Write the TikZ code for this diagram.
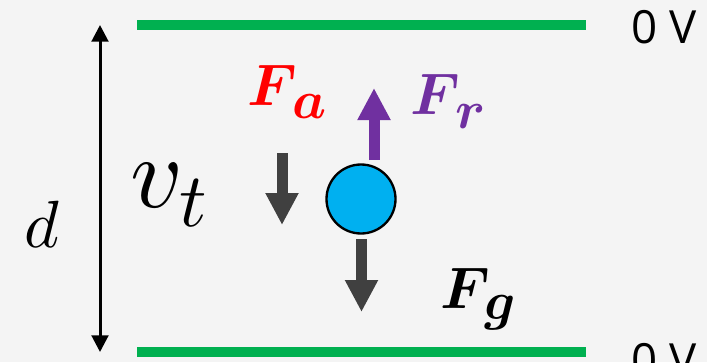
\documentclass[tikz,border=0pt]{standalone}
\usepackage{amsmath}
\usepackage{graphicx}
\usepackage{fontspec}
\newfontfamily\voltfont{Open Sans}
\usetikzlibrary{arrows.meta}
\definecolor{platecol}{HTML}{00B050}
\definecolor{ballcol}{HTML}{00B0F0}
\definecolor{darkarrow}{HTML}{404040}
\definecolor{purp}{HTML}{7030A0}
\definecolor{bgcol}{HTML}{F4F4F4}
\newcommand{\scaledmath}[2]{\scalebox{#1}{$#2$}}
\begin{document}
\begin{tikzpicture}[x=0.03cm,y=-0.03cm,
  plate/.style={draw=platecol,line width=0.3cm},
  force/.style={line width=0.33cm,-{Triangle[width=0.93cm,length=0.96cm]}},
  dimarrow/.style={line width=0.09cm,{Triangle[width=0.5cm,length=0.5cm]}-{Triangle[width=0.5cm,length=0.5cm]}},
  lab/.style={inner sep=0pt,anchor=base west,font=\fontsize{10}{12}\selectfont},
  volt/.style={inner sep=0pt,anchor=base west,font=\voltfont\fontsize{39}{40}\selectfont}
]
\fill[bgcol] (0,0) rectangle (707,362);
\clip (0,0) rectangle (707,362);
% plates
\coordinate (t1) at (137,25); \coordinate (t2) at (586,25);
\coordinate (b1) at (137,352); \coordinate (b2) at (586,352);
\draw[plate] (t1) -- (t2);
\draw[plate] (b1) -- (b2);
\node[volt] (top0) at (631,43) {0 V};
\node[volt] (bot0) at (631,376) {0 V};
% distance
\coordinate (dtop) at (100,25); \coordinate (dbot) at (100,352);
\draw[dimarrow] (dtop) -- (dbot);
\node[lab] (d) at (24,247) {\scaledmath{5.7}{d}};
\node[lab] (vt) at (130,207) {\scaledmath{8.7}{v}\kern-3pt\raisebox{-17pt}{\scaledmath{6.5}{t}}};
% ball
\node[circle,draw=black,line width=0.07cm,fill=ballcol,minimum size=2.07cm,inner sep=0pt] (ball) at (361,199) {};
% forces
\coordinate (fr1) at (374,160); \coordinate (fr2) at (374,88);
\draw[force,purp] (fr1) -- (fr2);
\coordinate (fa1) at (282,153); \coordinate (fa2) at (282,225);
\draw[force,darkarrow] (fa1) -- (fa2);
\coordinate (fg1) at (361.5,239); \coordinate (fg2) at (361.5,312);
\draw[force,darkarrow] (fg1) -- (fg2);
% labels
\node[lab,text=red] (fa) at (247,105) {\scaledmath{5}{\boldsymbol{F}}\kern-4pt\raisebox{-11.5pt}{\scaledmath{4.6}{\boldsymbol{a}}}};
\node[lab,text=purp] (fr) at (410,114) {\scaledmath{5}{\boldsymbol{F}}\kern-4pt\raisebox{-12pt}{\scaledmath{4.6}{\boldsymbol{r}}}};
\node[lab,text=black] (fg) at (440,308) {\scaledmath{5}{\boldsymbol{F}}\kern-5pt\raisebox{-10pt}{\scaledmath{4.6}{\boldsymbol{g}}}};
\end{tikzpicture}
\end{document}
